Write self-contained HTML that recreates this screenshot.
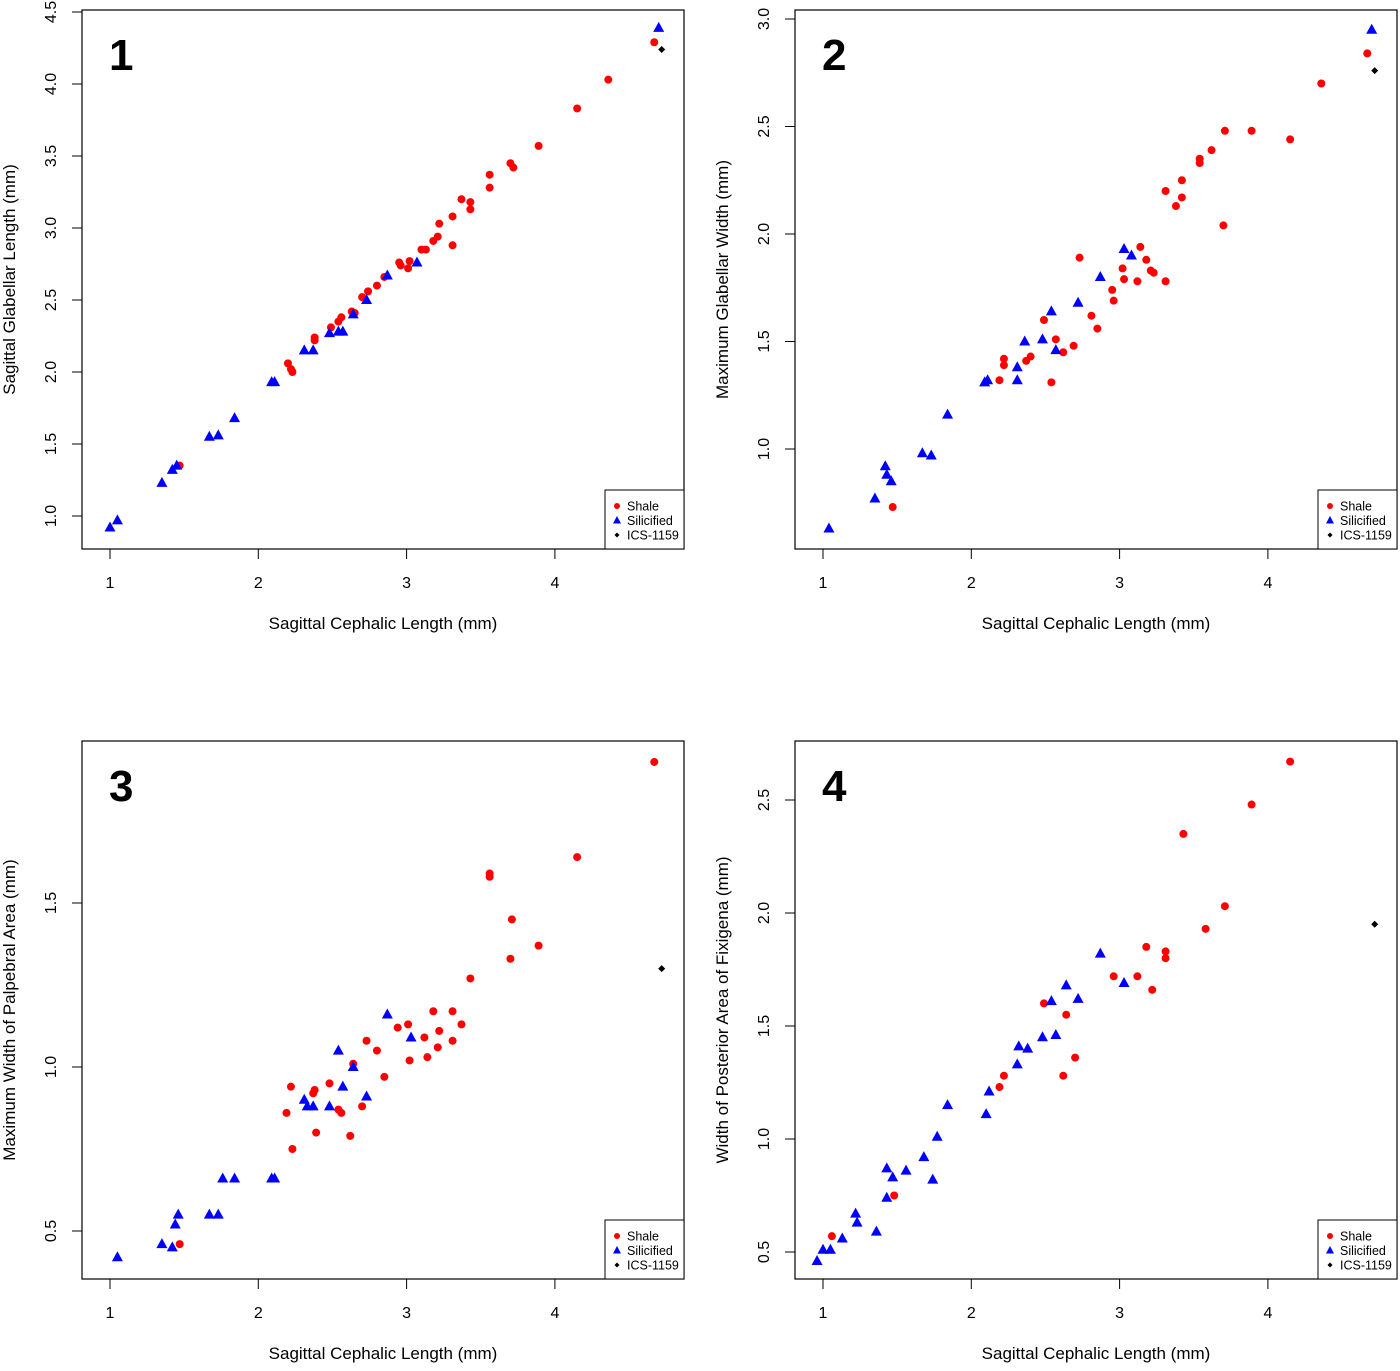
<!DOCTYPE html>
<html><head><meta charset="utf-8"><style>
html,body{margin:0;padding:0;background:#fff}
svg text{font-family:"Liberation Sans",Arial,sans-serif}
</style></head><body>
<svg id="chart" width="1400" height="1366" xmlns="http://www.w3.org/2000/svg"></svg>
<script>
// Panel 1 data
const p1ShaleX=[1.47,2.20,2.22,2.23,2.38,2.38,2.49,2.54,2.56,2.63,2.65,2.70,2.74,2.80,2.85,2.95,2.96,3.01,3.02,3.10,3.13,3.18,3.21,3.22,3.31,3.31,3.37,3.43,3.43,3.56,3.56,3.70,3.72,3.89,4.15,4.36,4.67];
const p1ShaleY=[1.35,2.06,2.02,2.00,2.24,2.22,2.31,2.35,2.38,2.42,2.41,2.52,2.56,2.60,2.66,2.76,2.74,2.72,2.77,2.85,2.85,2.91,2.94,3.03,2.88,3.08,3.20,3.18,3.13,3.37,3.28,3.45,3.42,3.57,3.83,4.03,4.29];
const p1SilX=[1.00,1.05,1.35,1.42,1.45,1.67,1.73,1.84,2.09,2.11,2.31,2.37,2.48,2.54,2.57,2.64,2.73,2.87,3.07,4.70];
const p1SilY=[0.92,0.97,1.23,1.32,1.35,1.55,1.56,1.68,1.93,1.93,2.15,2.15,2.27,2.28,2.28,2.40,2.50,2.67,2.76,4.39];
const p1IcsX=[4.72], p1IcsY=[4.24];
// Panel 2 data
const p2ShaleX=[1.47,2.19,2.22,2.22,2.37,2.40,2.49,2.54,2.57,2.62,2.69,2.73,2.81,2.85,2.95,2.96,3.02,3.03,3.12,3.14,3.18,3.21,3.23,3.31,3.31,3.38,3.42,3.42,3.54,3.54,3.62,3.70,3.71,3.89,4.15,4.36,4.67];
const p2ShaleY=[0.73,1.32,1.42,1.39,1.41,1.43,1.60,1.31,1.51,1.45,1.48,1.89,1.62,1.56,1.74,1.69,1.84,1.79,1.78,1.94,1.88,1.83,1.82,1.78,2.20,2.13,2.17,2.25,2.35,2.33,2.39,2.04,2.48,2.48,2.44,2.70,2.84];
const p2SilX=[1.04,1.35,1.42,1.43,1.46,1.67,1.73,1.84,2.09,2.11,2.31,2.31,2.36,2.48,2.54,2.57,2.72,2.87,3.03,3.08,4.70];
const p2SilY=[0.63,0.77,0.92,0.88,0.85,0.98,0.97,1.16,1.31,1.32,1.38,1.32,1.50,1.51,1.64,1.46,1.68,1.80,1.93,1.90,2.95];
const p2IcsX=[4.72], p2IcsY=[2.76];
// Panel 3 data
const p3ShaleX=[1.47,2.19,2.22,2.23,2.37,2.38,2.39,2.48,2.54,2.56,2.62,2.64,2.70,2.73,2.80,2.85,2.94,3.01,3.02,3.12,3.14,3.18,3.21,3.22,3.31,3.31,3.37,3.43,3.56,3.56,3.71,3.70,3.89,4.15,4.67];
const p3ShaleY=[0.46,0.86,0.94,0.75,0.92,0.93,0.80,0.95,0.87,0.86,0.79,1.01,0.88,1.08,1.05,0.97,1.12,1.13,1.02,1.09,1.03,1.17,1.06,1.11,1.08,1.17,1.13,1.27,1.59,1.58,1.45,1.33,1.37,1.64,1.93];
const p3SilX=[1.05,1.35,1.42,1.44,1.46,1.67,1.73,1.76,1.84,2.09,2.11,2.31,2.33,2.37,2.48,2.54,2.57,2.64,2.73,2.87,3.03];
const p3SilY=[0.42,0.46,0.45,0.52,0.55,0.55,0.55,0.66,0.66,0.66,0.66,0.90,0.88,0.88,0.88,1.05,0.94,1.00,0.91,1.16,1.09];
const p3IcsX=[4.72], p3IcsY=[1.30];
// Panel 4 data
const p4ShaleX=[1.06,1.48,2.19,2.22,2.49,2.62,2.64,2.70,2.96,3.12,3.18,3.22,3.31,3.31,3.43,3.58,3.71,3.89,4.15];
const p4ShaleY=[0.57,0.75,1.23,1.28,1.60,1.28,1.55,1.36,1.72,1.72,1.85,1.66,1.83,1.80,2.35,1.93,2.03,2.48,2.67];
const p4SilX=[0.96,1.00,1.05,1.13,1.22,1.23,1.36,1.43,1.43,1.47,1.56,1.68,1.74,1.77,1.84,2.10,2.12,2.31,2.32,2.38,2.48,2.54,2.57,2.64,2.72,2.87,3.03];
const p4SilY=[0.46,0.51,0.51,0.56,0.67,0.63,0.59,0.87,0.74,0.83,0.86,0.92,0.82,1.01,1.15,1.11,1.21,1.33,1.41,1.40,1.45,1.61,1.46,1.68,1.62,1.82,1.69];
const p4IcsX=[4.72], p4IcsY=[1.95];

const xTicks=[1,2,3,4];
const p1YTicks=["1.0","1.5","2.0","2.5","3.0","3.5","4.0","4.5"];
const p2YTicks=["1.0","1.5","2.0","2.5","3.0"];
const p3YTicks=["0.5","1.0","1.5"];
const p4YTicks=["0.5","1.0","1.5","2.0","2.5"];
const panelLabels=["1","2","3","4"];
const yTitles=["Sagittal Glabellar Length (mm)","Maximum Glabellar Width (mm)","Maximum Width of Palpebral Area (mm)","Width of Posterior Area of Fixigena (mm)"];

const NS="http://www.w3.org/2000/svg";
const svg=document.getElementById('chart');
function mk(tag,attrs,parent){const e=document.createElementNS(NS,tag);for(const k in attrs)e.setAttribute(k,attrs[k]);(parent||svg).appendChild(e);return e;}

const panels=[
 {L:82,T:10,R:684,B:549,x1px:110,yA:1.0,yApx:516,yPerUnit:144,sx:[p1ShaleX,p1ShaleY],si:[p1SilX,p1SilY],ic:[p1IcsX,p1IcsY],yt:p1YTicks},
 {L:795,T:10,R:1397,B:549,x1px:823,yA:1.0,yApx:449,yPerUnit:215,sx:[p2ShaleX,p2ShaleY],si:[p2SilX,p2SilY],ic:[p2IcsX,p2IcsY],yt:p2YTicks},
 {L:82,T:741,R:684,B:1279,x1px:110,yA:1.0,yApx:1067,yPerUnit:328,sx:[p3ShaleX,p3ShaleY],si:[p3SilX,p3SilY],ic:[p3IcsX,p3IcsY],yt:p3YTicks},
 {L:795,T:741,R:1397,B:1279,x1px:823,yA:1.0,yApx:1139,yPerUnit:226,sx:[p4ShaleX,p4ShaleY],si:[p4SilX,p4SilY],ic:[p4IcsX,p4IcsY],yt:p4YTicks}
];
const XU=148.3;

panels.forEach((p,i)=>{
 const g=mk('g',{});
 
 
 const xs=v=>p.x1px+(v-1)*XU;
 const ys=v=>p.yApx-(v-p.yA)*p.yPerUnit;
 const box=mk('rect',{x:p.L,y:p.T,width:p.R-p.L,height:p.B-p.T,fill:'none',stroke:'#000','stroke-width':1.2},g);
 
 
 xTicks.forEach(t=>{
  const x=xs(t);
  const tk=mk('line',{x1:x,x2:x,y1:p.B,y2:p.B+10,stroke:'#000','stroke-width':1},g);
  
  
  const lb=mk('text',{x:x,y:p.B+39,'text-anchor':'middle','font-size':16},g);
  lb.textContent=t;
  
  
 });
 p.yt.forEach(t=>{
  const y=ys(parseFloat(t));
  const tk=mk('line',{x1:p.L-10,x2:p.L,y1:y,y2:y,stroke:'#000','stroke-width':1},g);
  
  
  const lb=mk('text',{x:0,y:0,'text-anchor':'middle','font-size':16,transform:`translate(${p.L-26},${y}) rotate(-90)`},g);
  lb.textContent=t;
  
  
 });
 const xt=mk('text',{x:(p.L+p.R)/2,y:p.B+80,'text-anchor':'middle','font-size':17},g);
 xt.textContent='Sagittal Cephalic Length (mm)';
 
 
 const yt=mk('text',{x:0,y:0,'text-anchor':'middle','font-size':17,transform:`translate(${p.L-67},${(p.T+p.B)/2}) rotate(-90)`},g);
 yt.textContent=yTitles[i];
 
 
 const pl=mk('text',{x:p.L+27,y:p.T+60,'font-size':44,'font-weight':'bold'},g);
 pl.textContent=panelLabels[i];
 
 
 // series
 p.sx[0].forEach((v,j)=>{
  const c=mk('circle',{cx:xs(v),cy:ys(p.sx[1][j]),r:4,fill:'#f00'},g);
  
  
 });
 p.si[0].forEach((v,j)=>{
  const x=xs(v),y=ys(p.si[1][j]);
  const t=mk('polygon',{points:`${x},${y-6} ${x-5.5},${y+4} ${x+5.5},${y+4}`,fill:'#00f'},g);
  
  
 });
 p.ic[0].forEach((v,j)=>{
  const x=xs(v),y=ys(p.ic[1][j]);
  const d=mk('polygon',{points:`${x},${y-3.5} ${x+3.5},${y} ${x},${y+3.5} ${x-3.5},${y}`,fill:'#000'},g);
  
  
 });
 // legend
 const lg=mk('g',{},g);
 
 
 const lx=p.R-79, ly=p.B-59;
 mk('rect',{x:lx,y:ly,width:79,height:59,fill:'#fff',stroke:'#000','stroke-width':1},lg);
 const names=['Shale','Silicified','ICS-1159'];
 names.forEach((n,k)=>{
  const cy=ly+16+k*14.5, cx=lx+12;
  let m;
  if(k===0) m=mk('circle',{cx:cx,cy:cy,r:3,fill:'#f00'},lg);
  else if(k===1) m=mk('polygon',{points:`${cx},${cy-4.5} ${cx-4},${cy+3} ${cx+4},${cy+3}`,fill:'#00f'},lg);
  else m=mk('polygon',{points:`${cx},${cy-2.5} ${cx+2.5},${cy} ${cx},${cy+2.5} ${cx-2.5},${cy}`,fill:'#000'},lg);
  const tx=mk('text',{x:lx+22,y:cy+4.5,'font-size':12.5},lg);
  tx.textContent=n;
  
  
 });
});
</script>
</body></html>
